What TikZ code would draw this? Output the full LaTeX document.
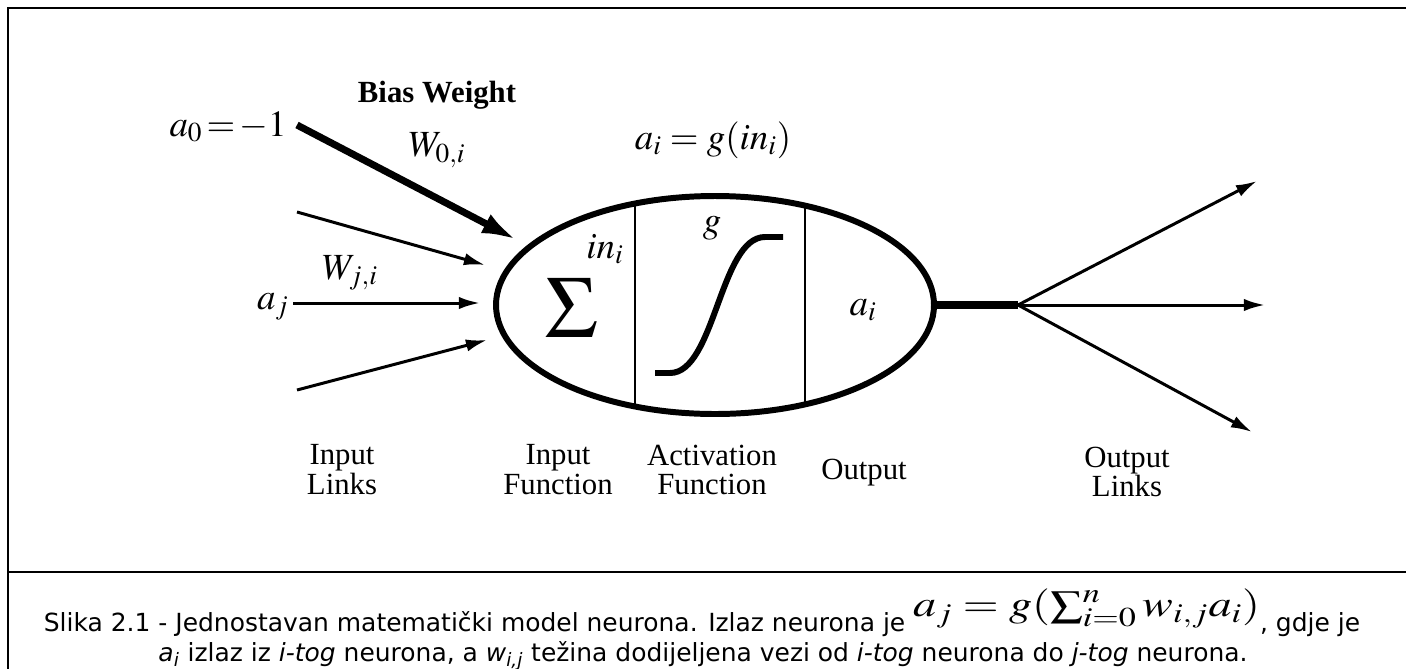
\documentclass[tikz,border=0pt]{standalone}
\usepackage{mathptmx}
\usepackage[no-math]{fontspec}
\setmainfont{Liberation Serif}
\newfontfamily\capfont{DejaVu Sans}
\usetikzlibrary{arrows.meta,shapes.geometric}

\tikzset{
  frame/.style={line width=1.4pt},
  link/.style={line width=1.7pt, -{Latex[length=12pt,width=7pt]}},
  biaslink/.style={line width=4pt, -{Latex[length=20pt,width=12pt]}},
  stem/.style={line width=4pt},
  lbl/.style={font=\fontsize{17.5}{17}\selectfont, align=center, inner sep=0pt},
  mlbl/.style={font=\fontsize{21}{21}\selectfont, inner sep=0pt},
  caption/.style={anchor=base, inner sep=0pt, font=\capfont\fontsize{14.2}{14}\selectfont},
}

\begin{document}
\begin{tikzpicture}
  \useasboundingbox (0,0) rectangle (28.12,-13.36);
  \draw[frame] (28.2,-0.16) -- (0.16,-0.16) -- (0.16,-13.5);
  \draw[line width=1.2pt] (0.16,-11.44) -- (28.2,-11.44);

  \node[ellipse, draw, line width=3.4pt, minimum width=8.76cm, minimum height=4.36cm] (neuron) at (14.3,-6.1) {};
  \begin{scope}
    \clip (14.3,-6.1) ellipse [x radius=4.38cm, y radius=2.18cm];
    \draw[line width=1.2pt] (12.7,-3) -- (12.7,-9);
    \draw[line width=1.2pt] (16.1,-3) -- (16.1,-9);
  \end{scope}

  \node[mlbl, font=\fontsize{50}{50}\selectfont] (sum) at (11.42,-6.16) {$\Sigma$};
  \node[mlbl] (in) at (12.1,-4.98) {$in_i$};
  \node[mlbl] (g) at (14.24,-4.56) {$g$};
  \draw[line width=3.4pt] (13.1,-7.46) -- (13.4,-7.46) .. controls (14.3,-7.46) and (14.4,-4.74) .. (15.3,-4.74) -- (15.66,-4.74);
  \node[mlbl] (ai) at (17.26,-6.2) {$a_i$};
  \node[mlbl] (act) at (14.26,-2.8) {$a_i = g(in_i)$};

  \node[mlbl] (a0) at (4.56,-2.54) {$a_0\!=\!-1$};
  \node[lbl, font=\fontsize{17.5}{17}\selectfont\bfseries] (bias) at (8.74,-1.9) {Bias Weight};
  \node[mlbl] (w0) at (8.74,-3.0) {$W_{0,i}$};
  \node[mlbl] (wj) at (7.0,-5.46) {$W_{j,i}$};
  \node[mlbl] (aj) at (5.46,-6.14) {$a_j$};

  \coordinate (b0) at (5.94,-2.5);
  \coordinate (t0) at (10.34,-4.8);
  \coordinate (b1) at (5.94,-4.24);
  \coordinate (t1) at (9.7,-5.3);
  \coordinate (b2) at (5.86,-6.06);
  \coordinate (t2) at (9.6,-6.06);
  \coordinate (b3) at (5.94,-7.8);
  \coordinate (t3) at (9.74,-6.8);
  \draw[biaslink] (b0) -- (t0);
  \draw[link] (b1) -- (t1);
  \draw[link] (b2) -- (t2);
  \draw[link] (b3) -- (t3);

  \coordinate (fork) at (20.36,-6.1);
  \coordinate (o1) at (25.14,-3.62);
  \coordinate (o2) at (25.3,-6.1);
  \coordinate (o3) at (25.04,-8.64);
  \draw[stem] (neuron.east) -- (fork);
  \draw[link] (fork) -- (o1);
  \draw[link] (fork) -- (o2);
  \draw[link] (fork) -- (o3);

  \node[lbl] (inlinks) at (6.84,-9.4) {Input\\Links};
  \node[lbl] (infun) at (11.16,-9.4) {Input\\Function};
  \node[lbl] (actfun) at (14.24,-9.4) {Activation\\Function};
  \node[lbl] (outp) at (17.28,-9.46) {Output};
  \node[lbl] (outlinks) at (22.54,-9.44) {Output\\Links};

  \node[caption] (cap1) at (14.04,-12.62)
    {Slika 2.1 - Jednostavan matematički model neurona. Izlaz neurona je \raisebox{8pt}{\scalebox{1.25}[1]{\fontsize{21}{21}\selectfont$a_j = g(\sum_{i=0}^{n} w_{i,j} a_i)$}}, gdje je};
  \node[caption] (cap2) at (14.06,-13.22)
    {\textit{a}\textsubscript{\textit{i}} izlaz iz \textit{i-tog} neurona, a \textit{w}\textsubscript{\textit{i,j}} težina dodijeljena vezi od \textit{i-tog} neurona do \textit{j-tog} neurona.};
\end{tikzpicture}
\end{document}
